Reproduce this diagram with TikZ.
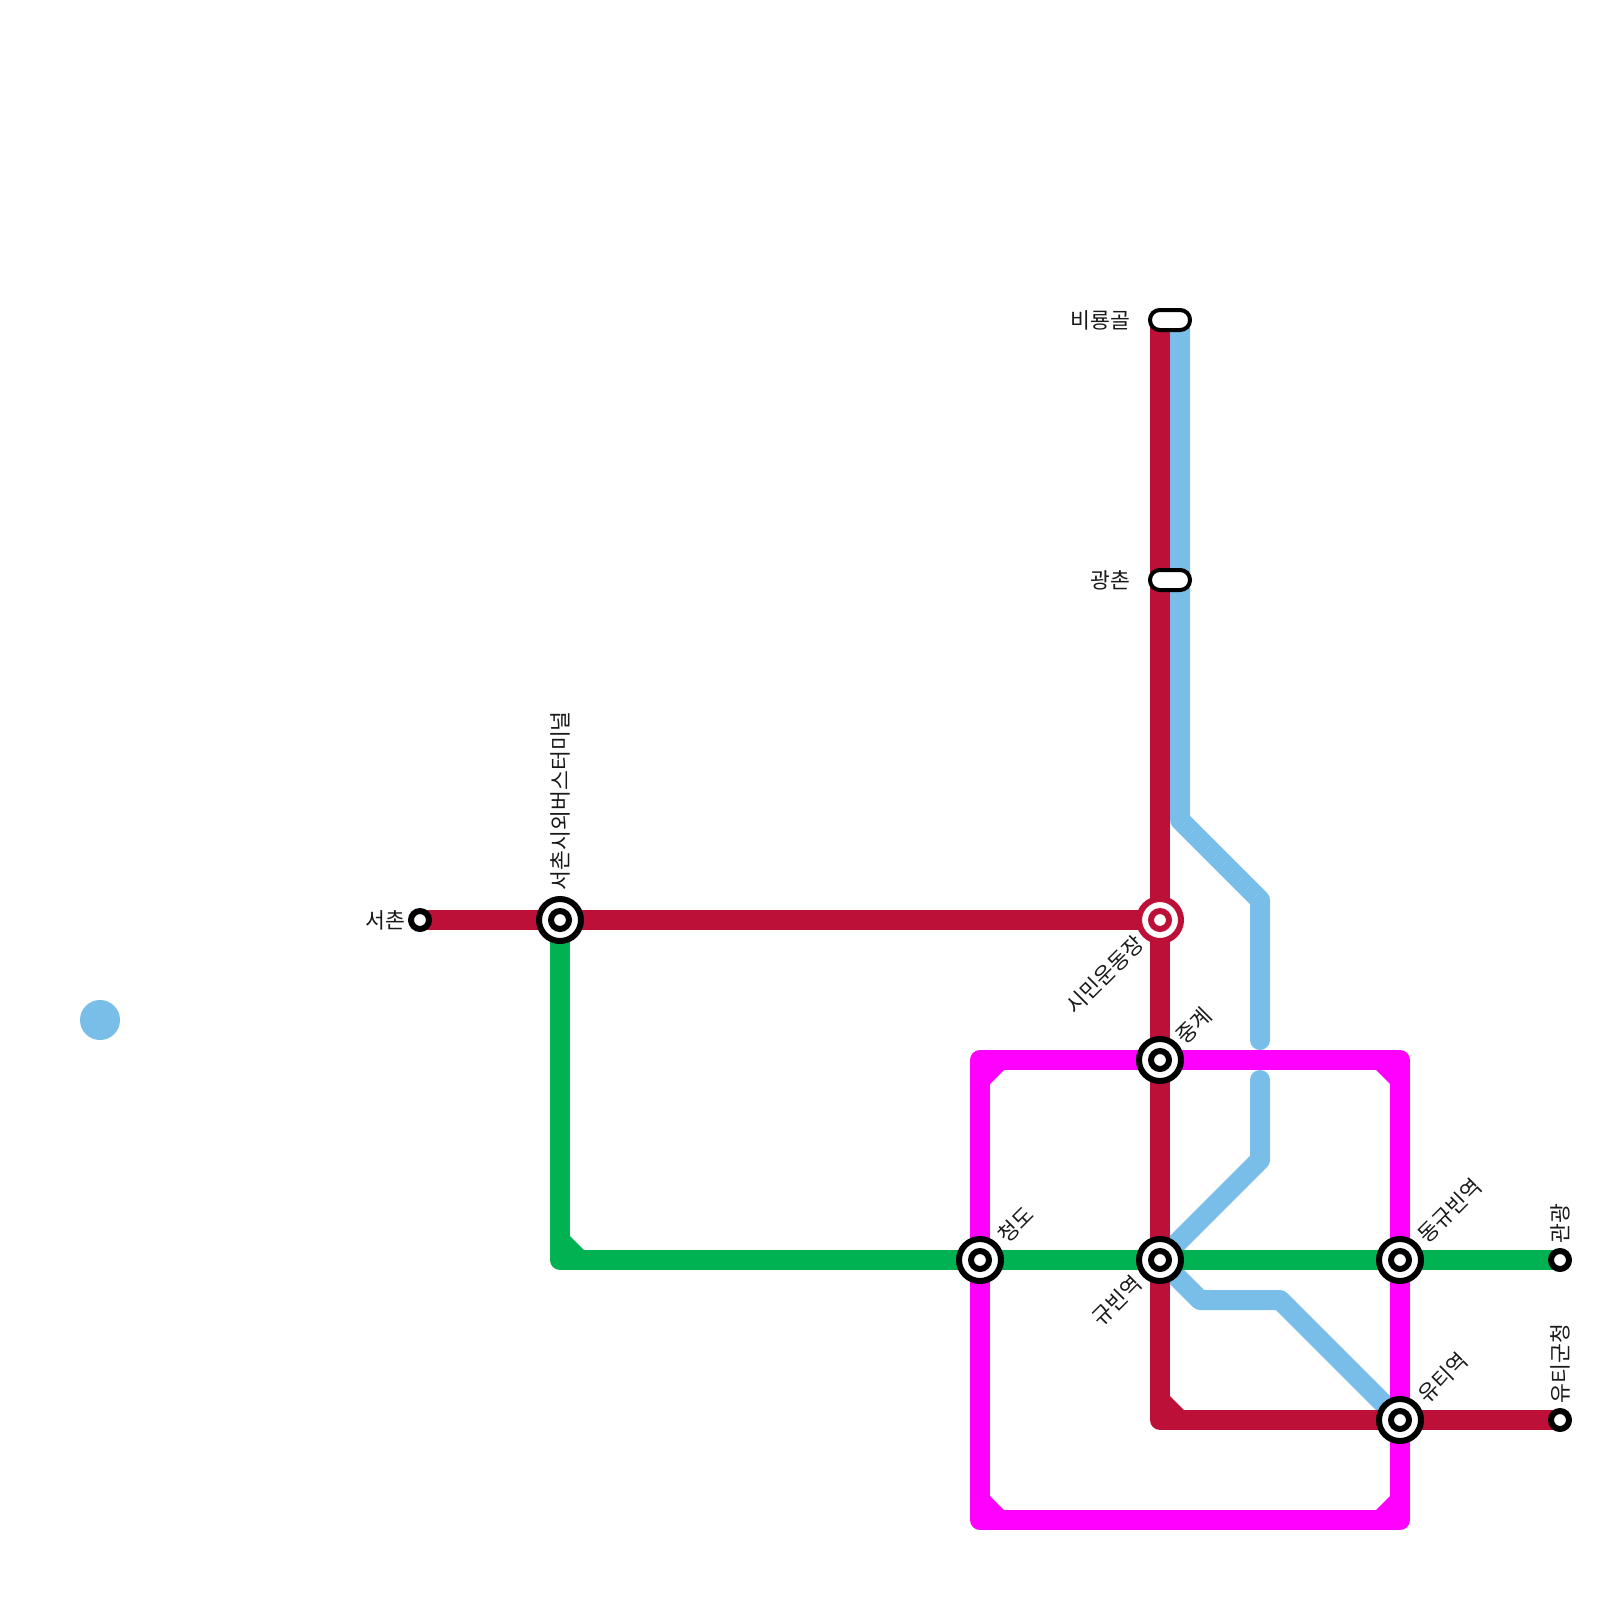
\documentclass[tikz,border=0pt]{standalone}
\usepackage{fontspec}
\newfontfamily\krfont{Noto Sans CJK KR}
\usetikzlibrary{backgrounds}
\definecolor{lnred}{HTML}{BD1038}
\definecolor{lnblue}{HTML}{79BDE9}
\definecolor{lngreen}{HTML}{00B251}
\definecolor{lnmag}{HTML}{FF00FF}
\tikzset{
  x=0.5pt,y=-0.5pt,
  every node/.style={inner sep=0pt,outer sep=0pt},
  route/.style={line width=10pt,line cap=round,line join=round},
  hubring/.style={circle,draw=#1,line width=3pt,fill=white,minimum size=21pt},
  hubring/.default=black,
  hubdot/.style={circle,draw=#1,line width=3pt,fill=white,minimum size=9pt},
  hubdot/.default=black,
  termin/.style={circle,draw=black,line width=3pt,fill=white,minimum size=9pt},
  capsule/.style={rectangle,rounded corners=4.9pt,draw=black,line width=2pt,fill=white,minimum width=20pt,minimum height=10pt},
  lbl/.style={font=\krfont\fontsize{10.8}{13}\selectfont,text=black!90},
}
\begin{document}
\begin{tikzpicture}
\useasboundingbox (0,0) rectangle (1600,1600);
% stations
\node[hubring] (terminal) at (560,920) {}; \node[hubdot] (terminalin) at (terminal) {};
\node[hubring=lnred] (stadium) at (1160,920) {}; \node[hubdot=lnred] (stadiumin) at (stadium) {};
\node[hubring] (junggye) at (1160,1060) {}; \node[hubdot] (junggyein) at (junggye) {};
\node[hubring] (kyubin) at (1160,1260) {}; \node[hubdot] (kyubinin) at (kyubin) {};
\node[hubring] (cheongdo) at (980,1260) {}; \node[hubdot] (cheongdoin) at (cheongdo) {};
\node[hubring] (dong) at (1400,1260) {}; \node[hubdot] (dongin) at (dong) {};
\node[hubring] (yuti) at (1400,1420) {}; \node[hubdot] (yutiin) at (yuti) {};
\node[termin] (seochon) at (420,920) {};
\node[termin] (gwangwang) at (1560,1260) {};
\node[termin] (cityhall) at (1560,1420) {};
\node[capsule] (biryong) at (1170,320) {};
\node[capsule] (gwangchon) at (1170,580) {};
% blue dot
\node[circle,fill=lnblue,minimum size=20pt] (bluedot) at (100,1020) {};
% labels
\node[lbl,anchor=east] (l1) at (1130,320) {비룡골};
\node[lbl,anchor=east] (l2) at (1130,580) {광촌};
\node[lbl,anchor=east] (l3) at (405,920) {서촌};
\node[lbl,anchor=west,rotate=90] (l4) at (560,890) {서촌시외버스터미널};
\node[lbl,anchor=east,rotate=45] (l5) at (1140,940) {시민운동장};
\node[lbl,anchor=west,rotate=45] (l6) at (1180,1040) {중계};
\node[lbl,anchor=west,rotate=45] (l7) at (1002,1239) {청도};
\node[lbl,anchor=east,rotate=45] (l8) at (1138,1280) {규빈역};
\node[lbl,anchor=west,rotate=45] (l9) at (1422,1239) {동규빈역};
\node[lbl,anchor=west,rotate=45] (l10) at (1422,1399) {유티역};
\node[lbl,anchor=west,rotate=90] (l11) at (1560,1243) {관광};
\node[lbl,anchor=west,rotate=90] (l12) at (1560,1403) {유티군청};
% junction points
\coordinate (redtop) at (1160,320);
\coordinate (redcorner) at (1160,1420);
\coordinate (bluetop) at (1180,320);
\coordinate (b1) at (1180,820);
\coordinate (b2) at (1260,900);
\coordinate (b3) at (1260,1040);
\coordinate (b4) at (1260,1080);
\coordinate (b5) at (1260,1160);
\coordinate (b6) at (1200,1300);
\coordinate (b7) at (1280,1300);
\coordinate (greencorner) at (560,1260);
\coordinate (m1) at (980,1060);
\coordinate (m2) at (980,1520);
\coordinate (m3) at (1400,1520);
\coordinate (m4) at (1400,1060);
\begin{pgfonlayer}{background}
\draw[route,lnblue] (bluetop) -- (b1) -- (b2) -- (b3);
\draw[route,lnblue] (b4) -- (b5) -- (kyubin.center) -- (b6) -- (b7) -- (yuti.center);
\draw[route,lnmag] (junggye.center) -- (m1) -- (cheongdo.center) -- (m2) -- (m3) -- (yuti.center) -- (dong.center) -- (m4) -- cycle;
\fill[lnmag] (990,1070) -- (990,1084) -- (1004,1070) -- cycle;
\fill[lnmag] (1390,1070) -- (1390,1084) -- (1376,1070) -- cycle;
\fill[lnmag] (990,1510) -- (990,1496) -- (1004,1510) -- cycle;
\fill[lnmag] (1390,1510) -- (1390,1496) -- (1376,1510) -- cycle;
\draw[route,lnred] (redtop) -- (stadium.center) -- (junggye.center) -- (kyubin.center) -- (redcorner) -- (yuti.center) -- (cityhall.center);
\draw[route,lnred] (seochon.center) -- (terminal.center) -- (stadium.center);
\fill[lnred] (1170,1410) -- (1170,1396) -- (1184,1410) -- cycle;
\draw[route,lngreen] (terminal.center) -- (greencorner) -- (cheongdo.center) -- (kyubin.center) -- (dong.center) -- (gwangwang.center);
\fill[lngreen] (570,1250) -- (570,1236) -- (584,1250) -- cycle;
\end{pgfonlayer}
\end{tikzpicture}
\end{document}
